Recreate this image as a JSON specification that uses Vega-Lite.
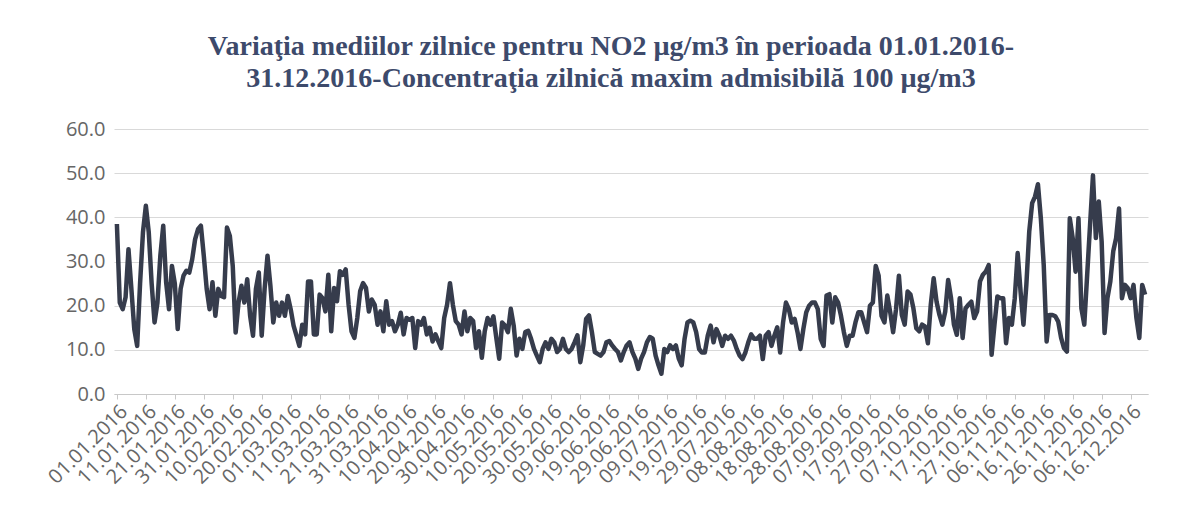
{
"$schema": "https://vega.github.io/schema/vega-lite/v6.json",
"width": 1034, "height": 265,
"autosize": {"type": "none"},
"padding": {"left": 114, "top": 129, "right": 31, "bottom": 128},
"background": "white",
"title": {"text": ["Variaţia mediilor zilnice pentru NO2 µg/m3 în perioada 01.01.2016-", "31.12.2016-Concentraţia zilnică maxim admisibilă 100 µg/m3"], "font": "Liberation Serif", "fontSize": 28, "fontWeight": "bold", "color": "#3d4a6b", "anchor": "middle", "dx": -20, "offset": 26, "lineHeight": 32},
"data": {"values": [
{"Data":"01.01.2016","NO2":38.5},{"Data":"02.01.2016","NO2":20.7},{"Data":"03.01.2016","NO2":19.2},{"Data":"04.01.2016","NO2":21.9},{"Data":"05.01.2016","NO2":32.8},{"Data":"06.01.2016","NO2":23.8},{"Data":"07.01.2016","NO2":14.7},{"Data":"08.01.2016","NO2":10.9},{"Data":"09.01.2016","NO2":25},{"Data":"10.01.2016","NO2":36.6},
{"Data":"11.01.2016","NO2":42.6},{"Data":"12.01.2016","NO2":36.6},{"Data":"13.01.2016","NO2":25},{"Data":"14.01.2016","NO2":16.2},{"Data":"15.01.2016","NO2":20.7},{"Data":"16.01.2016","NO2":31.3},{"Data":"17.01.2016","NO2":38.1},{"Data":"18.01.2016","NO2":25.3},{"Data":"19.01.2016","NO2":19.2},{"Data":"20.01.2016","NO2":29},
{"Data":"21.01.2016","NO2":25},{"Data":"22.01.2016","NO2":14.7},{"Data":"23.01.2016","NO2":23.8},{"Data":"24.01.2016","NO2":26.8},{"Data":"25.01.2016","NO2":27.9},{"Data":"26.01.2016","NO2":27.5},{"Data":"27.01.2016","NO2":30.5},{"Data":"28.01.2016","NO2":35},{"Data":"29.01.2016","NO2":37.3},{"Data":"30.01.2016","NO2":38.1},{"Data":"31.01.2016","NO2":31.3},
{"Data":"01.02.2016","NO2":23.8},{"Data":"02.02.2016","NO2":19.2},{"Data":"03.02.2016","NO2":25.3},{"Data":"04.02.2016","NO2":17.7},{"Data":"05.02.2016","NO2":23.8},{"Data":"06.02.2016","NO2":22.2},{"Data":"07.02.2016","NO2":21.9},{"Data":"08.02.2016","NO2":37.7},{"Data":"09.02.2016","NO2":35.8},{"Data":"10.02.2016","NO2":29},
{"Data":"11.02.2016","NO2":13.9},{"Data":"12.02.2016","NO2":20.7},{"Data":"13.02.2016","NO2":24.5},{"Data":"14.02.2016","NO2":20.7},{"Data":"15.02.2016","NO2":26},{"Data":"16.02.2016","NO2":17.7},{"Data":"17.02.2016","NO2":13.2},{"Data":"18.02.2016","NO2":23.8},{"Data":"19.02.2016","NO2":27.5},{"Data":"20.02.2016","NO2":13.2},
{"Data":"21.02.2016","NO2":23.8},{"Data":"22.02.2016","NO2":31.3},{"Data":"23.02.2016","NO2":24.5},{"Data":"24.02.2016","NO2":16.2},{"Data":"25.02.2016","NO2":20.7},{"Data":"26.02.2016","NO2":17.7},{"Data":"27.02.2016","NO2":20.7},{"Data":"28.02.2016","NO2":17.7},{"Data":"29.02.2016","NO2":22.2},
{"Data":"01.03.2016","NO2":19.2},{"Data":"02.03.2016","NO2":15.5},{"Data":"03.03.2016","NO2":13.2},{"Data":"04.03.2016","NO2":10.9},{"Data":"05.03.2016","NO2":15.7},{"Data":"06.03.2016","NO2":13.5},{"Data":"07.03.2016","NO2":25.5},{"Data":"08.03.2016","NO2":25.5},{"Data":"09.03.2016","NO2":13.5},{"Data":"10.03.2016","NO2":13.5},
{"Data":"11.03.2016","NO2":22.5},{"Data":"12.03.2016","NO2":21.7},{"Data":"13.03.2016","NO2":18.7},{"Data":"14.03.2016","NO2":27},{"Data":"15.03.2016","NO2":14.2},{"Data":"16.03.2016","NO2":24},{"Data":"17.03.2016","NO2":21},{"Data":"18.03.2016","NO2":27.8},{"Data":"19.03.2016","NO2":27},{"Data":"20.03.2016","NO2":28.2},
{"Data":"21.03.2016","NO2":20.2},{"Data":"22.03.2016","NO2":14.2},{"Data":"23.03.2016","NO2":12.7},{"Data":"24.03.2016","NO2":17.2},{"Data":"25.03.2016","NO2":23.3},{"Data":"26.03.2016","NO2":25.1},{"Data":"27.03.2016","NO2":24},{"Data":"28.03.2016","NO2":18.7},{"Data":"29.03.2016","NO2":21.4},{"Data":"30.03.2016","NO2":20.2},{"Data":"31.03.2016","NO2":15.7},
{"Data":"01.04.2016","NO2":18.7},{"Data":"02.04.2016","NO2":14.2},{"Data":"03.04.2016","NO2":21},{"Data":"04.04.2016","NO2":15.7},{"Data":"05.04.2016","NO2":16.5},{"Data":"06.04.2016","NO2":14.2},{"Data":"07.04.2016","NO2":15.7},{"Data":"08.04.2016","NO2":18.4},{"Data":"09.04.2016","NO2":13.5},{"Data":"10.04.2016","NO2":17.2},
{"Data":"11.04.2016","NO2":16.8},{"Data":"12.04.2016","NO2":17.2},{"Data":"13.04.2016","NO2":10.4},{"Data":"14.04.2016","NO2":16.5},{"Data":"15.04.2016","NO2":15.7},{"Data":"16.04.2016","NO2":17.2},{"Data":"17.04.2016","NO2":13.5},{"Data":"18.04.2016","NO2":15},{"Data":"19.04.2016","NO2":11.9},{"Data":"20.04.2016","NO2":13.5},
{"Data":"21.04.2016","NO2":11.9},{"Data":"22.04.2016","NO2":10.4},{"Data":"23.04.2016","NO2":17.2},{"Data":"24.04.2016","NO2":20.2},{"Data":"25.04.2016","NO2":25.1},{"Data":"26.04.2016","NO2":20.2},{"Data":"27.04.2016","NO2":16.5},{"Data":"28.04.2016","NO2":15.7},{"Data":"29.04.2016","NO2":13.5},{"Data":"30.04.2016","NO2":18.7},
{"Data":"01.05.2016","NO2":14.2},{"Data":"02.05.2016","NO2":17.2},{"Data":"03.05.2016","NO2":16.5},{"Data":"04.05.2016","NO2":10.4},{"Data":"05.05.2016","NO2":14.2},{"Data":"06.05.2016","NO2":8.2},{"Data":"07.05.2016","NO2":14.2},{"Data":"08.05.2016","NO2":17.2},{"Data":"09.05.2016","NO2":15.7},{"Data":"10.05.2016","NO2":17.6},
{"Data":"11.05.2016","NO2":12.7},{"Data":"12.05.2016","NO2":8},{"Data":"13.05.2016","NO2":16.2},{"Data":"14.05.2016","NO2":15.5},{"Data":"15.05.2016","NO2":14},{"Data":"16.05.2016","NO2":19.3},{"Data":"17.05.2016","NO2":15.5},{"Data":"18.05.2016","NO2":8.7},{"Data":"19.05.2016","NO2":12.5},{"Data":"20.05.2016","NO2":10.2},
{"Data":"21.05.2016","NO2":14},{"Data":"22.05.2016","NO2":14.3},{"Data":"23.05.2016","NO2":12.5},{"Data":"24.05.2016","NO2":10.2},{"Data":"25.05.2016","NO2":8.7},{"Data":"26.05.2016","NO2":7.2},{"Data":"27.05.2016","NO2":10.2},{"Data":"28.05.2016","NO2":11.7},{"Data":"29.05.2016","NO2":10.2},{"Data":"30.05.2016","NO2":12.5},{"Data":"31.05.2016","NO2":11.7},
{"Data":"01.06.2016","NO2":9.5},{"Data":"02.06.2016","NO2":10.2},{"Data":"03.06.2016","NO2":12.5},{"Data":"04.06.2016","NO2":10.2},{"Data":"05.06.2016","NO2":9.5},{"Data":"06.06.2016","NO2":10.2},{"Data":"07.06.2016","NO2":11.7},{"Data":"08.06.2016","NO2":13.3},{"Data":"09.06.2016","NO2":7.2},{"Data":"10.06.2016","NO2":11},
{"Data":"11.06.2016","NO2":17},{"Data":"12.06.2016","NO2":17.8},{"Data":"13.06.2016","NO2":14},{"Data":"14.06.2016","NO2":9.5},{"Data":"15.06.2016","NO2":9.1},{"Data":"16.06.2016","NO2":8.7},{"Data":"17.06.2016","NO2":9.5},{"Data":"18.06.2016","NO2":11.7},{"Data":"19.06.2016","NO2":12},{"Data":"20.06.2016","NO2":11},
{"Data":"21.06.2016","NO2":10.2},{"Data":"22.06.2016","NO2":9.5},{"Data":"23.06.2016","NO2":7.6},{"Data":"24.06.2016","NO2":9.5},{"Data":"25.06.2016","NO2":11},{"Data":"26.06.2016","NO2":11.7},{"Data":"27.06.2016","NO2":9.5},{"Data":"28.06.2016","NO2":8},{"Data":"29.06.2016","NO2":5.7},{"Data":"30.06.2016","NO2":8},
{"Data":"01.07.2016","NO2":9.5},{"Data":"02.07.2016","NO2":11.7},{"Data":"03.07.2016","NO2":12.9},{"Data":"04.07.2016","NO2":12.5},{"Data":"05.07.2016","NO2":8.7},{"Data":"06.07.2016","NO2":6.5},{"Data":"07.07.2016","NO2":4.6},{"Data":"08.07.2016","NO2":10.2},{"Data":"09.07.2016","NO2":9.5},{"Data":"10.07.2016","NO2":11},
{"Data":"11.07.2016","NO2":10.2},{"Data":"12.07.2016","NO2":11},{"Data":"13.07.2016","NO2":8},{"Data":"14.07.2016","NO2":6.5},{"Data":"15.07.2016","NO2":12.5},{"Data":"16.07.2016","NO2":16.2},{"Data":"17.07.2016","NO2":16.6},{"Data":"18.07.2016","NO2":16.2},{"Data":"19.07.2016","NO2":14},{"Data":"20.07.2016","NO2":10.2},
{"Data":"21.07.2016","NO2":9.4},{"Data":"22.07.2016","NO2":9.4},{"Data":"23.07.2016","NO2":13.2},{"Data":"24.07.2016","NO2":15.5},{"Data":"25.07.2016","NO2":11.7},{"Data":"26.07.2016","NO2":14.7},{"Data":"27.07.2016","NO2":13.2},{"Data":"28.07.2016","NO2":10.9},{"Data":"29.07.2016","NO2":13.2},{"Data":"30.07.2016","NO2":12.5},{"Data":"31.07.2016","NO2":13.2},
{"Data":"01.08.2016","NO2":12.1},{"Data":"02.08.2016","NO2":10.2},{"Data":"03.08.2016","NO2":8.7},{"Data":"04.08.2016","NO2":7.9},{"Data":"05.08.2016","NO2":9.4},{"Data":"06.08.2016","NO2":11.7},{"Data":"07.08.2016","NO2":13.5},{"Data":"08.08.2016","NO2":12.5},{"Data":"09.08.2016","NO2":12.5},{"Data":"10.08.2016","NO2":13.2},
{"Data":"11.08.2016","NO2":7.9},{"Data":"12.08.2016","NO2":13.2},{"Data":"13.08.2016","NO2":14},{"Data":"14.08.2016","NO2":10.9},{"Data":"15.08.2016","NO2":13.2},{"Data":"16.08.2016","NO2":15.1},{"Data":"17.08.2016","NO2":9.4},{"Data":"18.08.2016","NO2":16.2},{"Data":"19.08.2016","NO2":20.7},{"Data":"20.08.2016","NO2":19.2},
{"Data":"21.08.2016","NO2":16.2},{"Data":"22.08.2016","NO2":17},{"Data":"23.08.2016","NO2":14},{"Data":"24.08.2016","NO2":10.2},{"Data":"25.08.2016","NO2":14.7},{"Data":"26.08.2016","NO2":18.5},{"Data":"27.08.2016","NO2":20},{"Data":"28.08.2016","NO2":20.7},{"Data":"29.08.2016","NO2":20.7},{"Data":"30.08.2016","NO2":19.2},{"Data":"31.08.2016","NO2":12.5},
{"Data":"01.09.2016","NO2":10.9},{"Data":"02.09.2016","NO2":22.3},{"Data":"03.09.2016","NO2":22.6},{"Data":"04.09.2016","NO2":16.2},{"Data":"05.09.2016","NO2":21.9},{"Data":"06.09.2016","NO2":20.7},{"Data":"07.09.2016","NO2":17.7},{"Data":"08.09.2016","NO2":14},{"Data":"09.09.2016","NO2":10.9},{"Data":"10.09.2016","NO2":13.2},
{"Data":"11.09.2016","NO2":13.2},{"Data":"12.09.2016","NO2":16.2},{"Data":"13.09.2016","NO2":18.5},{"Data":"14.09.2016","NO2":18.5},{"Data":"15.09.2016","NO2":16.2},{"Data":"16.09.2016","NO2":14},{"Data":"17.09.2016","NO2":20},{"Data":"18.09.2016","NO2":20.7},{"Data":"19.09.2016","NO2":29},{"Data":"20.09.2016","NO2":26.8},
{"Data":"21.09.2016","NO2":17.7},{"Data":"22.09.2016","NO2":16.2},{"Data":"23.09.2016","NO2":22.3},{"Data":"24.09.2016","NO2":18.5},{"Data":"25.09.2016","NO2":14},{"Data":"26.09.2016","NO2":19.2},{"Data":"27.09.2016","NO2":26.8},{"Data":"28.09.2016","NO2":17.9},{"Data":"29.09.2016","NO2":15.7},{"Data":"30.09.2016","NO2":23.2},
{"Data":"01.10.2016","NO2":22.5},{"Data":"02.10.2016","NO2":19.4},{"Data":"03.10.2016","NO2":14.9},{"Data":"04.10.2016","NO2":14.2},{"Data":"05.10.2016","NO2":15.7},{"Data":"06.10.2016","NO2":15.3},{"Data":"07.10.2016","NO2":11.5},{"Data":"08.10.2016","NO2":20.2},{"Data":"09.10.2016","NO2":26.2},{"Data":"10.10.2016","NO2":20.9},
{"Data":"11.10.2016","NO2":17.9},{"Data":"12.10.2016","NO2":15.7},{"Data":"13.10.2016","NO2":18.7},{"Data":"14.10.2016","NO2":25.8},{"Data":"15.10.2016","NO2":21.7},{"Data":"16.10.2016","NO2":15.7},{"Data":"17.10.2016","NO2":13.4},{"Data":"18.10.2016","NO2":21.7},{"Data":"19.10.2016","NO2":12.7},{"Data":"20.10.2016","NO2":19.4},
{"Data":"21.10.2016","NO2":20.2},{"Data":"22.10.2016","NO2":20.9},{"Data":"23.10.2016","NO2":17.2},{"Data":"24.10.2016","NO2":18.7},{"Data":"25.10.2016","NO2":25.5},{"Data":"26.10.2016","NO2":27},{"Data":"27.10.2016","NO2":27.7},{"Data":"28.10.2016","NO2":29.2},{"Data":"29.10.2016","NO2":8.9},{"Data":"30.10.2016","NO2":15.7},{"Data":"31.10.2016","NO2":22.1},
{"Data":"01.11.2016","NO2":21.7},{"Data":"02.11.2016","NO2":21.7},{"Data":"03.11.2016","NO2":11.5},{"Data":"04.11.2016","NO2":17.2},{"Data":"05.11.2016","NO2":15.7},{"Data":"06.11.2016","NO2":21.7},{"Data":"07.11.2016","NO2":31.9},{"Data":"08.11.2016","NO2":23.2},{"Data":"09.11.2016","NO2":15.7},{"Data":"10.11.2016","NO2":24.7},
{"Data":"11.11.2016","NO2":36.8},{"Data":"12.11.2016","NO2":43.2},{"Data":"13.11.2016","NO2":44.7},{"Data":"14.11.2016","NO2":47.5},{"Data":"15.11.2016","NO2":39.8},{"Data":"16.11.2016","NO2":29.2},{"Data":"17.11.2016","NO2":11.9},{"Data":"18.11.2016","NO2":17.9},{"Data":"19.11.2016","NO2":17.9},{"Data":"20.11.2016","NO2":17.6},
{"Data":"21.11.2016","NO2":16.4},{"Data":"22.11.2016","NO2":12.7},{"Data":"23.11.2016","NO2":10.4},{"Data":"24.11.2016","NO2":9.6},{"Data":"25.11.2016","NO2":39.8},{"Data":"26.11.2016","NO2":35.3},{"Data":"27.11.2016","NO2":27.7},{"Data":"28.11.2016","NO2":39.8},{"Data":"29.11.2016","NO2":19.4},{"Data":"30.11.2016","NO2":15.7},
{"Data":"01.12.2016","NO2":27},{"Data":"02.12.2016","NO2":38.3},{"Data":"03.12.2016","NO2":49.5},{"Data":"04.12.2016","NO2":35.3},{"Data":"05.12.2016","NO2":43.6},{"Data":"06.12.2016","NO2":34.5},{"Data":"07.12.2016","NO2":13.8},{"Data":"08.12.2016","NO2":21.7},{"Data":"09.12.2016","NO2":25.5},{"Data":"10.12.2016","NO2":32.3},
{"Data":"11.12.2016","NO2":35.3},{"Data":"12.12.2016","NO2":42},{"Data":"13.12.2016","NO2":21.7},{"Data":"14.12.2016","NO2":24.7},{"Data":"15.12.2016","NO2":24},{"Data":"16.12.2016","NO2":21.7},{"Data":"17.12.2016","NO2":24.7},{"Data":"18.12.2016","NO2":17.2},{"Data":"19.12.2016","NO2":12.7},{"Data":"20.12.2016","NO2":24.7},{"Data":"21.12.2016","NO2":22.5}
]},
"mark": {"type": "line", "color": "#363c4c", "strokeWidth": 4.5, "strokeJoin": "round"},
"encoding": {
"x": {"field": "Data", "type": "ordinal", "sort": null, "scale": {"type": "point", "padding": 2},
 "axis": {"title": null, "values": ["01.01.2016","11.01.2016","21.01.2016","31.01.2016","10.02.2016","20.02.2016","01.03.2016","11.03.2016","21.03.2016","31.03.2016","10.04.2016","20.04.2016","30.04.2016","10.05.2016","20.05.2016","30.05.2016","09.06.2016","19.06.2016","29.06.2016","09.07.2016","19.07.2016","29.07.2016","08.08.2016","18.08.2016","28.08.2016","07.09.2016","17.09.2016","27.09.2016","07.10.2016","17.10.2016","27.10.2016","06.11.2016","16.11.2016","26.11.2016","06.12.2016","16.12.2016"],
  "labelAngle": -45, "labelFont": "Open Sans", "labelFontSize": 20, "labelColor": "#666666", "domainColor": "#c8c8c8", "tickColor": "#c8c8c8", "tickSize": 5, "grid": false, "labelPadding": 2}},
"y": {"field": "NO2", "type": "quantitative", "scale": {"domain": [0, 60]},
 "axis": {"title": null, "values": [0, 10, 20, 30, 40, 50, 60], "format": ".1f", "domain": false, "ticks": false, "labelFont": "Open Sans", "labelFontSize": 20, "labelColor": "#666666", "gridColor": "#d9d9d9", "labelPadding": 9}}
},
"config": {"view": {"stroke": null}}
}
